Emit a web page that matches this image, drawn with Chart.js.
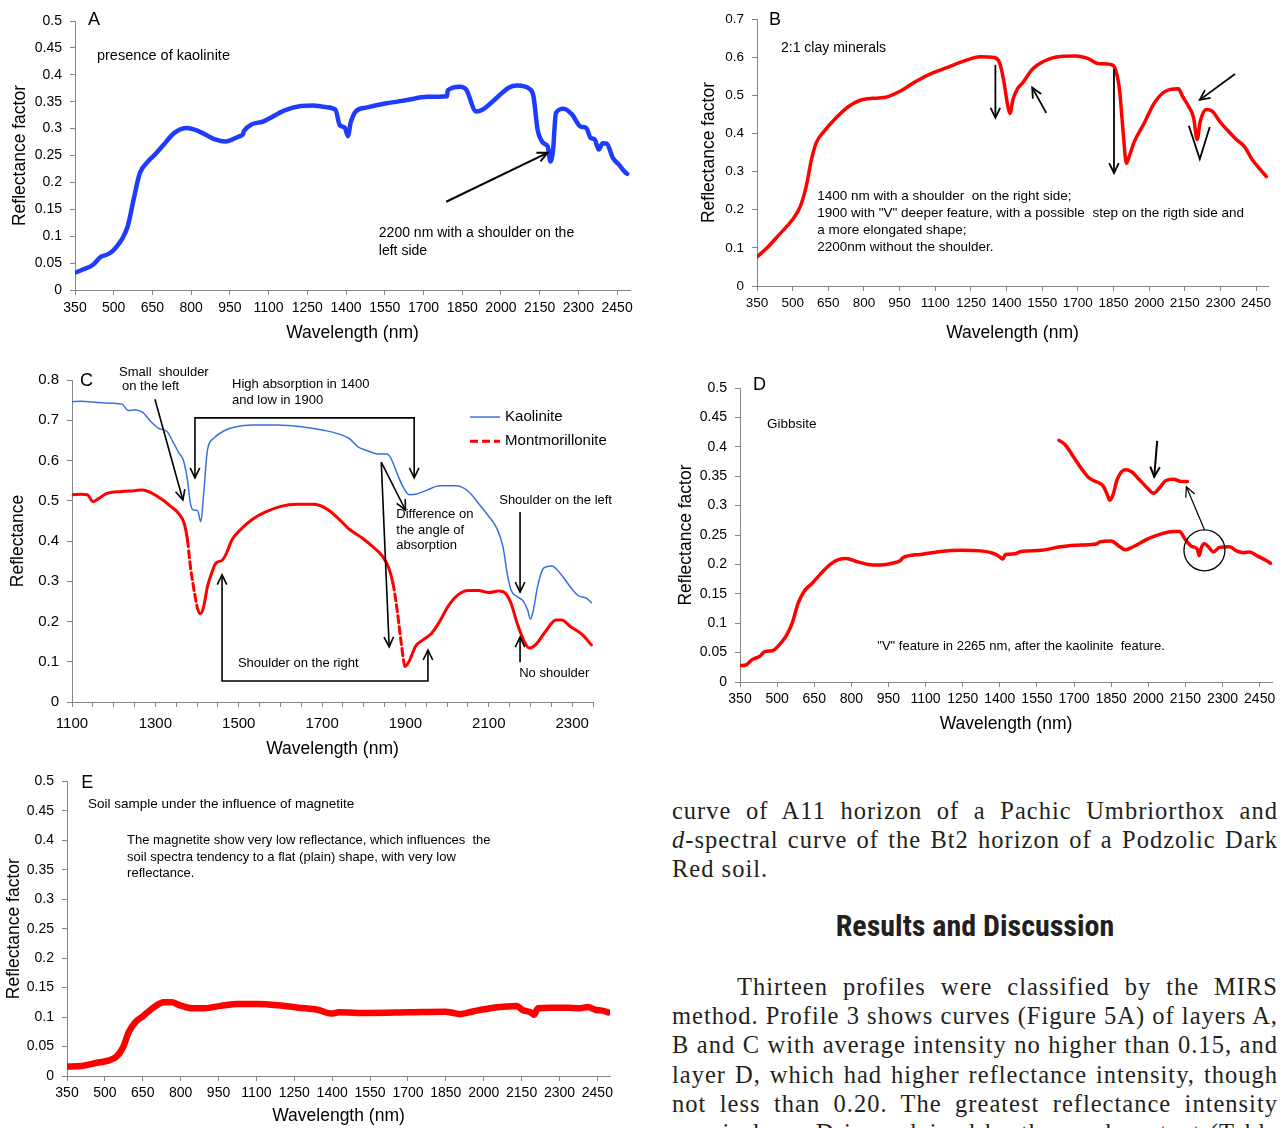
<!DOCTYPE html>
<html><head><meta charset="utf-8">
<script src="https://cdn.jsdelivr.net/npm/chart.js@4.4.1/dist/chart.umd.min.js"></script>
<style>
html,body{margin:0;padding:0;background:#fff}
body{width:1287px;height:1128px;overflow:hidden;position:relative}
canvas{position:absolute}
.ln{position:absolute;left:672px;width:606px;font-family:'Liberation Serif','Times New Roman',serif;font-size:24.5px;letter-spacing:1px;line-height:29px;color:#231f20;white-space:nowrap}
.j{text-align:justify;text-align-last:justify;white-space:normal}
.hd{position:absolute;left:672px;width:606px;text-align:center;font-family:'Liberation Sans Narrow','Roboto Condensed','Liberation Sans',sans-serif;font-weight:bold;font-size:30px;line-height:32px;color:#231f20}
</style></head><body>
<canvas id="cA" width="640" height="350" style="left:0;top:0"></canvas>
<canvas id="cB" width="590" height="350" style="left:690px;top:0"></canvas>
<canvas id="cC" width="640" height="400" style="left:0;top:360px"></canvas>
<canvas id="cD" width="620" height="380" style="left:666px;top:370px"></canvas>
<canvas id="cE" width="640" height="363" style="left:0;top:765px"></canvas>

<div class="ln j" style="top:796px">curve of A11 horizon of a Pachic Umbriorthox and</div>
<div class="ln j" style="top:825px"><i>d</i>-spectral curve of the Bt2 horizon of a Podzolic Dark</div>
<div class="ln" style="top:854px">Red soil.</div>
<div class="hd" style="top:910px">Results and Discussion</div>
<div class="ln j" style="top:972px;padding-left:65px;width:541px">Thirteen profiles were classified by the MIRS</div>
<div class="ln j" style="top:1001px">method. Profile 3 shows curves (Figure 5A) of layers A,</div>
<div class="ln j" style="top:1030px">B and C with average intensity no higher than 0.15, and</div>
<div class="ln j" style="top:1060px">layer D, which had higher reflectance intensity, though</div>
<div class="ln j" style="top:1089px">not less than 0.20. The greatest reflectance intensity</div>
<div class="ln j" style="top:1118px">was in layer D is explained by the sand content (Table</div>

<script>
// ---------- DATA ----------
const xTicksFull = [350,500,650,800,950,1100,1250,1400,1550,1700,1850,2000,2150,2300,2450];
const yTicks05 = [0,0.05,0.1,0.15,0.2,0.25,0.3,0.35,0.4,0.45,0.5];
const yTicksB = [0,0.1,0.2,0.3,0.4,0.5,0.6,0.7];
const yTicksC = [0,0.1,0.2,0.3,0.4,0.5,0.6,0.7,0.8];
const xTicksC = [1100,1150,1200,1250,1300,1350,1400,1450,1500,1550,1600,1650,1700,1750,1800,1850,1900,1950,2000,2050,2100,2150,2200,2250,2300,2350];
const xLabelsC = [1100,1300,1500,1700,1900,2100,2300];

const wlA = [350,380,420,451,470,490,510,530,554,577,601,633,660,688,735,783,830,893,933,988,1000,1004,1083,1162,1225,1272,1320,1359,1375,1396,1407,1418,1438,1478,1557,1636,1715,1791,1794,1841,1865,1904,1928,1983,2030,2062,2110,2126,2142,2165,2181,2192,2202,2213,2244,2276,2308,2331,2347,2363,2379,2394,2410,2434,2457,2481,2489];
const reflA = [0.032,0.038,0.047,0.062,0.065,0.070,0.080,0.093,0.118,0.168,0.217,0.239,0.252,0.267,0.292,0.301,0.295,0.280,0.276,0.286,0.289,0.295,0.314,0.334,0.342,0.343,0.340,0.335,0.307,0.301,0.286,0.311,0.332,0.339,0.347,0.353,0.359,0.360,0.371,0.378,0.373,0.332,0.335,0.357,0.376,0.380,0.374,0.360,0.298,0.273,0.267,0.239,0.261,0.329,0.337,0.326,0.304,0.301,0.283,0.280,0.261,0.273,0.272,0.245,0.233,0.219,0.216];

const wlB = [350,397,448,498,532,557,579,599,633,683,734,784,835,885,953,1020,1087,1155,1222,1289,1348,1370,1387,1404,1414,1427,1449,1466,1508,1559,1626,1693,1744,1786,1837,1858,1875,1892,1904,1916,1938,1980,2022,2064,2123,2140,2165,2187,2202,2215,2241,2266,2300,2333,2367,2400,2434,2468,2493];
const reflB = [0.076,0.103,0.138,0.173,0.208,0.261,0.331,0.375,0.406,0.441,0.470,0.487,0.492,0.494,0.511,0.537,0.558,0.574,0.590,0.601,0.599,0.586,0.542,0.476,0.452,0.489,0.520,0.531,0.568,0.590,0.602,0.603,0.596,0.583,0.581,0.568,0.516,0.393,0.322,0.340,0.379,0.428,0.480,0.509,0.517,0.498,0.472,0.441,0.384,0.432,0.463,0.458,0.429,0.406,0.384,0.366,0.331,0.305,0.287];

const wlCk = [1100,1122,1162,1201,1220,1235,1250,1269,1289,1308,1328,1342,1357,1367,1377,1384,1391,1401,1409,1416,1425,1440,1465,1494,1533,1592,1650,1709,1748,1767,1787,1807,1836,1855,1865,1880,1894,1909,1924,1953,1982,2022,2051,2075,2100,2119,2134,2144,2153,2168,2183,2193,2200,2207,2217,2232,2251,2271,2295,2315,2334,2346];
const kaoliniteC = [0.746,0.747,0.744,0.742,0.740,0.724,0.726,0.720,0.697,0.680,0.672,0.647,0.618,0.601,0.552,0.494,0.477,0.476,0.448,0.519,0.626,0.655,0.674,0.684,0.688,0.688,0.684,0.674,0.663,0.653,0.633,0.625,0.616,0.616,0.606,0.568,0.535,0.515,0.516,0.527,0.537,0.537,0.523,0.494,0.461,0.432,0.386,0.320,0.279,0.262,0.250,0.229,0.206,0.229,0.287,0.333,0.338,0.320,0.287,0.264,0.258,0.247];
const wlCm = [1100,1122,1137,1150,1162,1181,1220,1250,1269,1289,1318,1337,1357,1369,1377,1384,1394,1401,1408,1416,1425,1435,1445,1460,1469,1484,1504,1533,1562,1601,1640,1679,1709,1738,1767,1797,1826,1845,1860,1870,1880,1890,1899,1909,1924,1943,1963,1982,2002,2026,2051,2075,2100,2124,2139,2153,2168,2183,2197,2212,2236,2261,2275,2295,2325,2346];
const montmorilloniteC = [0.515,0.516,0.515,0.498,0.504,0.517,0.523,0.525,0.527,0.520,0.502,0.486,0.467,0.444,0.403,0.337,0.271,0.233,0.219,0.237,0.287,0.320,0.345,0.352,0.366,0.403,0.428,0.454,0.471,0.486,0.491,0.491,0.481,0.457,0.428,0.407,0.382,0.362,0.333,0.295,0.229,0.146,0.089,0.101,0.138,0.155,0.171,0.200,0.237,0.266,0.277,0.277,0.272,0.276,0.271,0.246,0.196,0.155,0.134,0.142,0.175,0.204,0.204,0.188,0.167,0.142];

const wlD = [350,374,399,431,451,480,504,536,561,585,609,642,674,715,747,780,820,869,918,966,999,1007,1080,1161,1242,1323,1372,1396,1412,1423,1461,1485,1566,1647,1728,1793,1801,1850,1882,1907,1939,1996,2053,2101,2126,2150,2174,2198,2206,2214,2227,2247,2263,2288,2328,2361,2385,2410,2442,2475,2494];
const reflD = [0.028,0.029,0.038,0.044,0.052,0.053,0.061,0.078,0.100,0.134,0.154,0.168,0.183,0.200,0.208,0.210,0.205,0.200,0.199,0.202,0.207,0.211,0.217,0.222,0.224,0.223,0.219,0.214,0.209,0.217,0.218,0.222,0.224,0.230,0.233,0.235,0.238,0.240,0.231,0.225,0.230,0.243,0.252,0.256,0.256,0.242,0.231,0.226,0.215,0.228,0.235,0.228,0.221,0.229,0.230,0.222,0.220,0.221,0.214,0.207,0.202];
const wlDzoom = [1639,1663,1696,1728,1761,1793,1817,1834,1845,1858,1874,1907,1931,1964,1996,2021,2045,2069,2102,2134,2158];
const reflDzoom = [0.411,0.404,0.384,0.364,0.347,0.340,0.334,0.319,0.309,0.319,0.344,0.361,0.358,0.344,0.330,0.321,0.330,0.342,0.345,0.341,0.341];

const wlE = [350,407,474,513,546,571,595,620,652,692,733,765,797,846,894,959,1024,1105,1185,1266,1347,1395,1428,1541,1702,1848,1880,1904,1961,2025,2090,2130,2154,2186,2199,2215,2266,2332,2380,2412,2445,2469,2493];
const reflE = [0.016,0.017,0.023,0.026,0.033,0.048,0.075,0.091,0.102,0.116,0.125,0.125,0.120,0.115,0.115,0.119,0.122,0.122,0.120,0.116,0.112,0.106,0.108,0.107,0.108,0.109,0.107,0.105,0.110,0.115,0.118,0.119,0.112,0.108,0.104,0.115,0.116,0.116,0.115,0.117,0.112,0.111,0.108];

// ---------- HELPERS ----------
Chart.defaults.font.family = "'Liberation Sans', Arial, Helvetica, sans-serif";
Chart.defaults.color = '#000';
const FONT = "'Liberation Sans', Arial, Helvetica, sans-serif";
const pts = (xs, ys) => xs.map((x, i) => ({x: x, y: ys[i]}));
const fmt = v => String(Math.round(v * 100) / 100);
const AXC = '#868686';

const notesPlugin = {
  id: 'notes',
  afterDatasetsDraw(chart, args, o) {
    const ctx = chart.ctx, xs = chart.scales.x, ys = chart.scales.y;
    const px = v => xs.getPixelForValue(v), py = v => ys.getPixelForValue(v);
    ctx.save();
    const head = (a, b, L) => {
      const x1 = px(a[0]), y1 = py(a[1]), x2 = px(b[0]), y2 = py(b[1]);
      const an = Math.atan2(y2 - y1, x2 - x1);
      ctx.beginPath();
      ctx.moveTo(x2 - L * Math.cos(an - 0.45), y2 - L * Math.sin(an - 0.45));
      ctx.lineTo(x2, y2);
      ctx.lineTo(x2 - L * Math.cos(an + 0.45), y2 - L * Math.sin(an + 0.45));
      ctx.stroke();
    };
    (o.paths || []).forEach(p => {
      ctx.strokeStyle = '#000'; ctx.lineWidth = p.width || 1.6; ctx.lineJoin = 'miter';
      ctx.beginPath();
      p.pts.forEach((q, i) => i ? ctx.lineTo(px(q[0]), py(q[1])) : ctx.moveTo(px(q[0]), py(q[1])));
      ctx.stroke();
      const L = p.head_len || 11;
      if (p.head === 'end' || p.head === 'both') head(p.pts[p.pts.length - 2], p.pts[p.pts.length - 1], L);
      if (p.head === 'start' || p.head === 'both') head(p.pts[1], p.pts[0], L);
    });
    (o.circles || []).forEach(c => {
      ctx.strokeStyle = '#000'; ctx.lineWidth = 1.3;
      ctx.beginPath(); ctx.arc(px(c.x), py(c.y), c.r, 0, Math.PI * 2); ctx.stroke();
    });
    (o.texts || []).forEach(t => {
      ctx.fillStyle = '#000'; ctx.font = (t.size || 14) + 'px ' + FONT;
      ctx.textAlign = 'left'; ctx.textBaseline = 'middle';
      ctx.fillText(t.text, px(t.x), py(t.y));
    });
    (o.legend || []).forEach(l => {
      ctx.strokeStyle = l.color; ctx.lineWidth = l.width; ctx.setLineDash(l.dash || []);
      ctx.beginPath(); ctx.moveTo(px(l.x1), py(l.y)); ctx.lineTo(px(l.x2), py(l.y)); ctx.stroke();
      ctx.setLineDash([]);
      ctx.fillStyle = '#000'; ctx.font = (l.size || 15) + 'px ' + FONT;
      ctx.textAlign = 'left'; ctx.textBaseline = 'middle';
      ctx.fillText(l.text, px(l.tx), py(l.y));
    });
    ctx.restore();
  }
};
Chart.register(notesPlugin);

function scales(o) {
  const grid = {drawOnChartArea: false, drawTicks: true, tickLength: 5, color: AXC, tickColor: AXC};
  const border = {display: true, color: AXC, width: 1};
  return {
    x: {
      type: 'linear', min: o.xMin, max: o.xMax,
      afterBuildTicks: s => { s.ticks = o.xTicks.map(v => ({value: v})); },
      afterFit: s => { s.height = o.xH; },
      ticks: {autoSkip: false, maxRotation: 0, minRotation: 0, padding: o.xPad, color: '#000',
              font: {size: o.tick}, callback: o.xLabel || (v => String(v))},
      grid: grid, border: border,
      title: {display: true, text: 'Wavelength (nm)', color: '#000', font: {size: 17.5},
              padding: {top: 0, bottom: o.xTitlePad}}
    },
    y: {
      type: 'linear', min: 0, max: o.yMax,
      afterBuildTicks: s => { s.ticks = o.yTicks.map(v => ({value: v})); },
      afterFit: s => { s.width = o.yW; },
      ticks: {padding: 8, color: '#000', font: {size: o.tick}, callback: fmt},
      grid: grid, border: border,
      title: {display: true, text: o.yTitle, color: '#000', font: {size: 17.5},
              padding: {top: o.yTitlePad, bottom: 0}}
    }
  };
}

function make(id, datasets, sc, pad, notes) {
  return new Chart(document.getElementById(id), {
    type: 'line',
    data: {datasets: datasets},
    options: {
      responsive: false, animation: false, devicePixelRatio: 1,
      layout: {padding: {top: pad.top, right: pad.right, left: 0, bottom: 0}},
      elements: {point: {radius: 0}, line: {cubicInterpolationMode: 'monotone', borderCapStyle: 'round', borderJoinStyle: 'round'}},
      plugins: {legend: {display: false}, tooltip: {enabled: false}, title: {display: false}, notes: notes},
      scales: scales(sc)
    }
  });
}

// ---------- A ----------
make('cA',
  [{label: 'A', data: pts(wlA, reflA), borderColor: '#1e3cff', borderWidth: 4.5}],
  {xMin: 350, xMax: 2500, xTicks: xTicksFull, yMax: 0.5, yTicks: yTicks05, yW: 75, xH: 60, xPad: 5, tick: 14,
   xTitlePad: 6.5, yTitle: 'Reflectance factor', yTitlePad: 9.5},
  {top: 21, right: 10},
  {texts: [
     {x: 400, y: 0.502, text: 'A', size: 18},
     {x: 435, y: 0.435, text: 'presence of kaolinite', size: 14.5},
     {x: 1527, y: 0.106, text: '2200 nm with a shoulder on the', size: 14},
     {x: 1527, y: 0.072, text: 'left side', size: 14}],
   paths: [{pts: [[1788, 0.164], [2180, 0.255]], head: 'end', width: 2}]});

// ---------- B ----------
make('cB',
  [{label: 'B', data: pts(wlB, reflB), borderColor: '#ff0000', borderWidth: 3.5}],
  {xMin: 350, xMax: 2500, xTicks: xTicksFull, yMax: 0.7, yTicks: yTicksB, yW: 67, xH: 64, xPad: 4, tick: 13.5,
   xTitlePad: 6.5, yTitle: 'Reflectance factor', yTitlePad: 8.5},
  {top: 19, right: 12},
  {texts: [
     {x: 401, y: 0.697, text: 'B', size: 18},
     {x: 451, y: 0.624, text: '2:1 clay minerals', size: 14},
     {x: 603, y: 0.236, text: '1400 nm with a shoulder  on the right side;', size: 13.5},
     {x: 603, y: 0.191, text: '1900 with "V" deeper feature, with a possible  step on the rigth side and', size: 13.5},
     {x: 603, y: 0.147, text: 'a more elongated shape;', size: 13.5},
     {x: 603, y: 0.102, text: '2200nm without the shoulder.', size: 13.5}],
   paths: [
     {pts: [[1353, 0.580], [1353, 0.441]], head: 'end', width: 1.8},
     {pts: [[1567, 0.454], [1508, 0.520]], head: 'end', width: 1.8},
     {pts: [[1852, 0.568], [1852, 0.296]], head: 'end', width: 1.8},
     {pts: [[2361, 0.556], [2213, 0.488]], head: 'end', width: 1.8},
     {pts: [[2167, 0.420], [2213, 0.333], [2255, 0.417]], width: 1.8}]});

// ---------- C ----------
make('cC',
  [{label: 'Kaolinite', data: pts(wlCk, kaoliniteC), borderColor: '#3a6fe0', borderWidth: 1.5},
   {label: 'Montmorillonite', data: pts(wlCm, montmorilloniteC), borderColor: '#ff0000', borderWidth: 3,
    segment: {borderDash: c => ((c.p1.y - c.p0.y) / Math.max(0.01, c.p1.x - c.p0.x) > 5.2 ? [7, 4] : undefined)}}],
  {xMin: 1100, xMax: 2350, xTicks: xTicksC, xLabel: v => (xLabelsC.includes(v) ? String(v) : ''),
   yMax: 0.8, yTicks: yTicksC, yW: 72, xH: 58, xPad: 8, tick: 15,
   xTitlePad: 0.5, yTitle: 'Reflectance', yTitlePad: 7.5},
  {top: 20, right: 47},
  {texts: [
     {x: 1119, y: 0.797, text: 'C', size: 18},
     {x: 1213, y: 0.820, text: 'Small  shoulder', size: 13},
     {x: 1220, y: 0.783, text: 'on the left', size: 13},
     {x: 1484, y: 0.788, text: 'High absorption in 1400', size: 13},
     {x: 1484, y: 0.750, text: 'and low in 1900', size: 13},
     {x: 1878, y: 0.465, text: 'Difference on', size: 13},
     {x: 1878, y: 0.427, text: 'the angle of', size: 13},
     {x: 1878, y: 0.390, text: 'absorption', size: 13},
     {x: 2125, y: 0.502, text: 'Shoulder on the left', size: 13},
     {x: 1498, y: 0.097, text: 'Shoulder on the right', size: 13},
     {x: 2173, y: 0.072, text: 'No shoulder', size: 13}],
   paths: [
     {pts: [[1299, 0.752], [1366, 0.502]], head: 'end'},
     {pts: [[1395, 0.557], [1395, 0.706], [1921, 0.706], [1921, 0.557]], head: 'both'},
     {pts: [[1842, 0.596], [1900, 0.477]], head: 'end'},
     {pts: [[1842, 0.596], [1861, 0.137]], head: 'end'},
     {pts: [[2175, 0.472], [2175, 0.273]], head: 'end'},
     {pts: [[2175, 0.099], [2175, 0.161]], head: 'end'},
     {pts: [[1460, 0.316], [1460, 0.052], [1954, 0.052], [1954, 0.129]], head: 'both'}],
   legend: [
     {x1: 2055, x2: 2127, tx: 2139, y: 0.708, color: '#3a6fe0', width: 1.5, text: 'Kaolinite', size: 15},
     {x1: 2055, x2: 2127, tx: 2139, y: 0.648, color: '#ff0000', width: 3, dash: [8, 4], text: 'Montmorillonite', size: 15}]});

// ---------- D ----------
make('cD',
  [{label: 'D', data: pts(wlD, reflD), borderColor: '#ff0000', borderWidth: 3.5},
   {label: 'D detail', data: pts(wlDzoom, reflDzoom), borderColor: '#ff0000', borderWidth: 3.5}],
  {xMin: 350, xMax: 2500, xTicks: xTicksFull, yMax: 0.5, yTicks: yTicks05, yW: 74, xH: 68, xPad: 4, tick: 14,
   xTitlePad: 15.5, yTitle: 'Reflectance factor', yTitlePad: 9.5},
  {top: 18, right: 14},
  {texts: [
     {x: 403, y: 0.505, text: 'D', size: 18},
     {x: 459, y: 0.439, text: 'Gibbsite', size: 13.5},
     {x: 905, y: 0.060, text: '"V" feature in 2265 nm, after the kaolinite  feature.', size: 13}],
   paths: [
     {pts: [[2036, 0.410], [2024, 0.349]], head: 'end', width: 2},
     {pts: [[2227, 0.259], [2154, 0.332]], head: 'end', width: 1.2}],
   circles: [{x: 2227, y: 0.224, r: 20.5}]});

// ---------- E ----------
make('cE',
  [{label: 'E', data: pts(wlE, reflE), borderColor: '#ff0000', borderWidth: 6.5}],
  {xMin: 350, xMax: 2500, xTicks: xTicksFull, yMax: 0.5, yTicks: yTicks05, yW: 67, xH: 52, xPad: 4, tick: 14,
   xTitlePad: 1.5, yTitle: 'Reflectance factor', yTitlePad: 3.5},
  {top: 16, right: 30},
  {texts: [
     {x: 406, y: 0.497, text: 'E', size: 18},
     {x: 433, y: 0.461, text: 'Soil sample under the influence of magnetite', size: 13.5},
     {x: 588, y: 0.400, text: 'The magnetite show very low reflectance, which influences  the', size: 13},
     {x: 588, y: 0.371, text: 'soil spectra tendency to a flat (plain) shape, with very low', size: 13},
     {x: 588, y: 0.344, text: 'reflectance.', size: 13}]});
</script>
</body></html>
